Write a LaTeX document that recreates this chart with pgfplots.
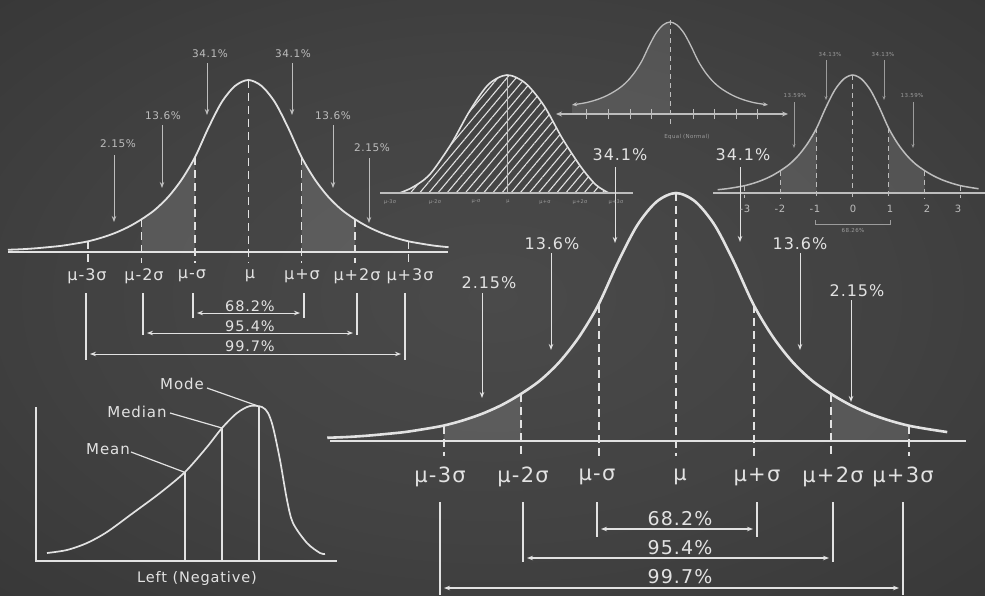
\documentclass[border=0pt]{standalone}
\usepackage{fontspec}
\setmainfont{DejaVu Sans}
\newfontfamily\ck[LetterSpace=6]{DejaVu Sans}
\usepackage{pgfplots}
\pgfplotsset{compat=1.18}
\usepackage{pgfplotstable}
\usetikzlibrary{arrows.meta,patterns.meta}

\definecolor{chalk}{HTML}{E2E2E2}
\definecolor{chalkdim}{HTML}{BDBDBD}
\definecolor{chalkfaint}{HTML}{9C9C9C}
\definecolor{bgA}{HTML}{4A4A4A}
\definecolor{bgB}{HTML}{424242}
\definecolor{bgC}{HTML}{323232}
\definecolor{bgD}{HTML}{1A1A1A}
\pgfdeclareradialshading{vign}{\pgfpoint{0bp}{0bp}}{color(0bp)=(bgA); color(20bp)=(bgB); color(45bp)=(bgC); color(72bp)=(bgD)}

\newcommand{\fs}[1]{\fontsize{#1}{#1}\selectfont\ck}

% generic bell profile: t in sigma units, h relative height
\pgfplotstableread{
t h
-4.5 0.013
-4.25 0.016
-4.0 0.021
-3.75 0.028
-3.5 0.036
-3.25 0.048
-3.0 0.062
-2.75 0.083
-2.5 0.110
-2.25 0.145
-2.0 0.190
-1.75 0.245
-1.5 0.320
-1.25 0.420
-1.0 0.550
-0.75 0.720
-0.5 0.870
-0.25 0.965
0 1.000
0.25 0.965
0.5 0.870
0.75 0.720
1.0 0.550
1.25 0.420
1.5 0.320
1.75 0.245
2.0 0.190
2.25 0.145
2.5 0.110
2.75 0.083
3.0 0.062
3.25 0.048
3.5 0.036
3.75 0.028
4.0 0.021
4.25 0.016
4.5 0.013
}\bell

% hatched curve
\pgfplotstableread{
t h
-2.9 0.0
-2.6 0.04
-2.25 0.11
-2.0 0.19
-1.5 0.42
-1.0 0.70
-0.5 0.92
0 1.0
0.5 0.93
1.0 0.74
1.5 0.46
2.0 0.22
2.4 0.07
2.75 0.0
}\hatch

% skewed curve (pixel coordinates)
\pgfplotstableread{
x y
47 553
67 550
87 543
107 532
133 513
160 493
185 472
207 447
222 428
237 413
250 406
262 407
268 413
273 427
280 460
287 500
293 523
307 543
320 553
325 554
}\skew

\pgfplotsset{
  chart/.style={hide axis, clip=false, xmin=-5, xmax=5, ymin=-1, ymax=1.2, anchor=south west},
}
\tikzset{
  dsh/.style={line width=1.5pt, dash pattern=on 8pt off 5pt},
  arr/.style={line width=1pt, -{Stealth[length=6pt,width=4.5pt]}},
  darr/.style={line width=1.1pt, {Stealth[length=6pt,width=4.5pt]}-{Stealth[length=6pt,width=4.5pt]}},
  sarr/.style={line width=0.7pt, -{Stealth[length=4pt,width=3pt]}},
  shd/.style={draw=none, fill=white, fill opacity=0.12},
}

\begin{document}
\begin{tikzpicture}
\shade[shading=vign] (0,0) rectangle (985pt,595pt);

% ---------------- Chart A (upper left) ----------------
\begin{axis}[chart, x=53.4pt, y=172pt, at={(-18.7pt,171pt)}]
\addplot[shd, smooth, restrict x to domain=-2:-1] table[x=t,y=h]{\bell} \closedcycle;
\addplot[shd, smooth, restrict x to domain=1:2] table[x=t,y=h]{\bell} \closedcycle;
\addplot[chalk, line width=1.8pt, smooth, restrict x to domain=-4.5:3.75] table[x=t,y=h]{\bell};
\addplot[chalk, dsh] coordinates {(-3,0.062) (-3,-0.064)};
\addplot[chalk, dsh] coordinates {(-2,0.19) (-2,-0.064)};
\addplot[chalk, dsh] coordinates {(-1,0.55) (-1,-0.064)};
\addplot[chalk, dsh] coordinates {(0,1) (0,-0.064)};
\addplot[chalk, dsh] coordinates {(1,0.55) (1,-0.064)};
\addplot[chalk, dsh] coordinates {(2,0.19) (2,-0.064)};
\addplot[chalk, dsh] coordinates {(3,0.062) (3,-0.064)};
\end{axis}

% ---------------- Chart M (main) ----------------
\begin{axis}[chart, x=77.5pt, y=248pt, at={(288.5pt,-94pt)}]
\addplot[shd, smooth, restrict x to domain=-3:-2] table[x=t,y=h]{\bell} \closedcycle;
\addplot[shd, smooth, restrict x to domain=2:3] table[x=t,y=h]{\bell} \closedcycle;
\addplot[chalk, line width=2.6pt, smooth, restrict x to domain=-4.5:3.6] table[x=t,y=h]{\bell};
\addplot[chalk, dsh, line width=2pt] coordinates {(-3,0.062) (-3,-0.06)};
\addplot[chalk, dsh, line width=2pt] coordinates {(-2,0.19) (-2,-0.06)};
\addplot[chalk, dsh, line width=2pt] coordinates {(-1,0.55) (-1,-0.06)};
\addplot[chalk, dsh, line width=2pt] coordinates {(0,1) (0,-0.06)};
\addplot[chalk, dsh, line width=2pt] coordinates {(1,0.55) (1,-0.06)};
\addplot[chalk, dsh, line width=2pt] coordinates {(2,0.19) (2,-0.06)};
\addplot[chalk, dsh, line width=2pt] coordinates {(3,0.062) (3,-0.06)};
\end{axis}

% ---------------- Chart D (top right) ----------------
\begin{axis}[chart, x=36pt, y=118pt, at={(672.6pt,284pt)}]
\addplot[shd, fill opacity=0.11, smooth, restrict x to domain=-2:-1] table[x=t,y=h]{\bell} \closedcycle;
\addplot[shd, fill opacity=0.11, smooth, restrict x to domain=1:2] table[x=t,y=h]{\bell} \closedcycle;
\addplot[chalkdim, line width=1.5pt, smooth, restrict x to domain=-3.75:3.5] table[x=t,y=h]{\bell};
\addplot[chalkdim, line width=1.1pt, dash pattern=on 5pt off 4pt] coordinates {(-3,0.062) (-3,-0.04)};
\addplot[chalkdim, line width=1.1pt, dash pattern=on 5pt off 4pt] coordinates {(-2,0.19) (-2,-0.04)};
\addplot[chalkdim, line width=1.1pt, dash pattern=on 5pt off 4pt] coordinates {(-1,0.55) (-1,-0.04)};
\addplot[chalkdim, line width=1.1pt, dash pattern=on 5pt off 4pt] coordinates {(0,1) (0,-0.04)};
\addplot[chalkdim, line width=1.1pt, dash pattern=on 5pt off 4pt] coordinates {(1,0.55) (1,-0.04)};
\addplot[chalkdim, line width=1.1pt, dash pattern=on 5pt off 4pt] coordinates {(2,0.19) (2,-0.04)};
\addplot[chalkdim, line width=1.1pt, dash pattern=on 5pt off 4pt] coordinates {(3,0.062) (3,-0.04)};
\end{axis}

% ---------------- Chart B (hatched) ----------------
\begin{axis}[chart, x=37pt, y=118pt, at={(322pt,284pt)}]
\addplot[draw=none, smooth, pattern={Lines[angle=50,distance=7pt,line width=1.1pt]}, pattern color=chalk] table[x=t,y=h]{\hatch} \closedcycle;
\addplot[chalkdim, line width=0.7pt] coordinates {(0,0) (0,1)};
\addplot[chalk, line width=1.6pt, smooth] table[x=t,y=h]{\hatch};
\end{axis}

% ---------------- Chart C (Equal (Normal)) ----------------
\begin{axis}[chart, x=28pt, y=86pt, at={(530pt,401pt)}]
\addplot[shd, fill opacity=0.11, smooth, restrict x to domain=-3.5:0] table[x=t,y=h]{\bell} \closedcycle;
\addplot[shd, fill opacity=0.11] coordinates {(-3.5,0) (0,0) (0,-0.07) (-3.5,-0.07)} -- cycle;
\addplot[chalkdim, line width=1.3pt, smooth, restrict x to domain=-3.5:3.5, {Stealth[length=5pt,width=4pt]}-{Stealth[length=5pt,width=4pt]}] table[x=t,y=h]{\bell};
\addplot[chalkdim, line width=1pt, dash pattern=on 5pt off 4pt] coordinates {(0,1.02) (0,-0.23)};
\end{axis}

% ---------------- Pixel overlay: baselines, arrows, texts, skew chart ----------------
\begin{axis}[hide axis, clip=false, x=1pt, y=1pt, y dir=reverse, xmin=0, xmax=985, ymin=0, ymax=595, at={(0pt,0pt)}, anchor=south west]
% baselines
\addplot[chalk, line width=2.6pt] coordinates {(330,441) (966,441)};
\addplot[chalk, line width=2pt] coordinates {(8,252) (448,252)};
\addplot[chalkdim, line width=1.5pt] coordinates {(380,193) (633,193)};
\addplot[chalkdim, line width=1.5pt] coordinates {(713,193) (985,193)};
\addplot[chalkdim, line width=1.2pt, {Stealth[length=6pt,width=5pt]}-{Stealth[length=6pt,width=5pt]}] coordinates {(556,114) (788,114)};
\pgfplotsinvokeforeach{586,608,630,651,693,714,736,757}{
  \addplot[chalkdim, line width=1pt] coordinates {(#1,109) (#1,119)};
}

% main chart arrows
\addplot[chalk, arr] coordinates {(615,167) (615,243)};
\addplot[chalk, arr] coordinates {(740,167) (740,242)};
\addplot[chalk, arr] coordinates {(551,253) (551,350)};
\addplot[chalk, arr] coordinates {(800,253) (800,350)};
\addplot[chalk, arr] coordinates {(482,293) (482,398)};
\addplot[chalk, arr] coordinates {(851,300) (851,402)};
% main brackets
\addplot[chalk, line width=1.6pt] coordinates {(597,502) (597,537)};
\addplot[chalk, line width=1.6pt] coordinates {(757,502) (757,537)};
\addplot[chalk, line width=1.6pt] coordinates {(523,502) (523,562)};
\addplot[chalk, line width=1.6pt] coordinates {(833,502) (833,562)};
\addplot[chalk, line width=1.6pt] coordinates {(440,502) (440,595)};
\addplot[chalk, line width=1.6pt] coordinates {(903,502) (903,595)};
\addplot[chalk, darr] coordinates {(601,529) (753,529)};
\addplot[chalk, darr] coordinates {(527,558) (829,558)};
\addplot[chalk, darr] coordinates {(444,588) (899,588)};

% chart A arrows
\addplot[chalkdim, arr, line width=0.8pt] coordinates {(207,63) (207,115)};
\addplot[chalkdim, arr, line width=0.8pt] coordinates {(292,63) (292,115)};
\addplot[chalkdim, arr, line width=0.8pt] coordinates {(162,125) (162,188)};
\addplot[chalkdim, arr, line width=0.8pt] coordinates {(333,125) (333,188)};
\addplot[chalkdim, arr, line width=0.8pt] coordinates {(114,155) (114,222)};
\addplot[chalkdim, arr, line width=0.8pt] coordinates {(369,158) (369,223)};
% chart A brackets
\addplot[chalk, line width=1.3pt] coordinates {(193,293) (193,318)};
\addplot[chalk, line width=1.3pt] coordinates {(304,293) (304,318)};
\addplot[chalk, line width=1.3pt] coordinates {(143,293) (143,335)};
\addplot[chalk, line width=1.3pt] coordinates {(357,293) (357,335)};
\addplot[chalk, line width=1.3pt] coordinates {(86,293) (86,360)};
\addplot[chalk, line width=1.3pt] coordinates {(405,293) (405,360)};
\addplot[chalk, darr, line width=0.9pt] coordinates {(197,313) (300,313)};
\addplot[chalk, darr, line width=0.9pt] coordinates {(147,333) (353,333)};
\addplot[chalk, darr, line width=0.9pt] coordinates {(90,354) (401,354)};

% chart D arrows and line
\addplot[chalkfaint, sarr] coordinates {(826,60) (826,100)};
\addplot[chalkfaint, sarr] coordinates {(884,60) (884,100)};
\addplot[chalkfaint, sarr] coordinates {(794,102) (794,148)};
\addplot[chalkfaint, sarr] coordinates {(913,102) (913,148)};
\addplot[chalkfaint, line width=0.7pt] coordinates {(815,220) (815,224) (890,224) (890,220)};

% skew chart
\addplot[chalk, line width=1.6pt] coordinates {(36,407) (36,561) (337,561)};
\addplot[chalk, line width=1.7pt, smooth] table[x=x,y=y]{\skew};
\addplot[chalk, line width=1.3pt] coordinates {(185,472) (185,561)};
\addplot[chalk, line width=1.3pt] coordinates {(222,428) (222,561)};
\addplot[chalk, line width=1.3pt] coordinates {(259,406) (259,561)};
\addplot[chalk, line width=1.2pt] coordinates {(207,388) (258,406)};
\addplot[chalk, line width=1.2pt] coordinates {(170,413) (222,428)};
\addplot[chalk, line width=1.2pt] coordinates {(131,452) (184,472)};

% ---- texts ----
% main
\node[text=chalk] at (axis cs:620,155) {\fs{16}34.1\%};
\node[text=chalk] at (axis cs:743,155) {\fs{16}34.1\%};
\node[text=chalk] at (axis cs:552,244) {\fs{16}13.6\%};
\node[text=chalk] at (axis cs:800,244) {\fs{16}13.6\%};
\node[text=chalk] at (axis cs:489,283) {\fs{16}2.15\%};
\node[text=chalk] at (axis cs:857,291) {\fs{16}2.15\%};
\node[text=chalk] at (axis cs:440,477) {\fs{21}μ-3σ};
\node[text=chalk] at (axis cs:523,477) {\fs{21}μ-2σ};
\node[text=chalk] at (axis cs:597,477) {\fs{21}μ-σ};
\node[text=chalk] at (axis cs:680,477) {\fs{21}μ};
\node[text=chalk] at (axis cs:757,477) {\fs{21}μ+σ};
\node[text=chalk] at (axis cs:833,477) {\fs{21}μ+2σ};
\node[text=chalk] at (axis cs:903,477) {\fs{21}μ+3σ};
\node[text=chalk] at (axis cs:680,519) {\fs{19}68.2\%};
\node[text=chalk] at (axis cs:680,548) {\fs{19}95.4\%};
\node[text=chalk] at (axis cs:680,577) {\fs{19}99.7\%};
% chart A
\node[text=chalkdim] at (axis cs:210,54) {\fs{10.5}34.1\%};
\node[text=chalkdim] at (axis cs:293,54) {\fs{10.5}34.1\%};
\node[text=chalkdim] at (axis cs:163,116) {\fs{10.5}13.6\%};
\node[text=chalkdim] at (axis cs:333,116) {\fs{10.5}13.6\%};
\node[text=chalkdim] at (axis cs:118,144) {\fs{10.5}2.15\%};
\node[text=chalkdim] at (axis cs:372,148) {\fs{10.5}2.15\%};
\node[text=chalk] at (axis cs:87,276) {\fs{16}μ-3σ};
\node[text=chalk] at (axis cs:144,276) {\fs{16}μ-2σ};
\node[text=chalk] at (axis cs:192,276) {\fs{16}μ-σ};
\node[text=chalk] at (axis cs:250,276) {\fs{16}μ};
\node[text=chalk] at (axis cs:302,276) {\fs{16}μ+σ};
\node[text=chalk] at (axis cs:357,276) {\fs{16}μ+2σ};
\node[text=chalk] at (axis cs:410,276) {\fs{16}μ+3σ};
\node[text=chalk] at (axis cs:250,306) {\fs{14.5}68.2\%};
\node[text=chalk] at (axis cs:250,326) {\fs{14.5}95.4\%};
\node[text=chalk] at (axis cs:250,346) {\fs{14.5}99.7\%};
% chart B
\node[text=chalkfaint] at (axis cs:390,202) {\fs{5}μ-3σ};
\node[text=chalkfaint] at (axis cs:435,202) {\fs{5}μ-2σ};
\node[text=chalkfaint] at (axis cs:476,202) {\fs{5}μ-σ};
\node[text=chalkfaint] at (axis cs:508,202) {\fs{5}μ};
\node[text=chalkfaint] at (axis cs:545,202) {\fs{5}μ+σ};
\node[text=chalkfaint] at (axis cs:580,202) {\fs{5}μ+2σ};
\node[text=chalkfaint] at (axis cs:616,202) {\fs{5}μ+3σ};
% chart C
\node[text=chalkfaint] at (axis cs:687,137) {\fs{5.5}Equal (Normal)};
% chart D
\node[text=chalkfaint] at (axis cs:830,54) {\fs{5.5}34.13\%};
\node[text=chalkfaint] at (axis cs:883,54) {\fs{5.5}34.13\%};
\node[text=chalkfaint] at (axis cs:795,95) {\fs{5.5}13.59\%};
\node[text=chalkfaint] at (axis cs:912,95) {\fs{5.5}13.59\%};
\node[text=chalkfaint] at (axis cs:853,230) {\fs{5.5}68.26\%};
\node[text=chalkdim] at (axis cs:745,209) {\fs{10}-3};
\node[text=chalkdim] at (axis cs:780,209) {\fs{10}-2};
\node[text=chalkdim] at (axis cs:815,209) {\fs{10}-1};
\node[text=chalkdim] at (axis cs:853,209) {\fs{10}0};
\node[text=chalkdim] at (axis cs:890,209) {\fs{10}1};
\node[text=chalkdim] at (axis cs:927,209) {\fs{10}2};
\node[text=chalkdim] at (axis cs:958,209) {\fs{10}3};
% chart E
\node[text=chalk] at (axis cs:182,384) {\fs{15}Mode};
\node[text=chalk] at (axis cs:137,412) {\fs{15}Median};
\node[text=chalk] at (axis cs:108,449) {\fs{15}Mean};
\node[text=chalk] at (axis cs:197,578) {\fs{14.5}Left (Negative)};
\end{axis}

\pgfresetboundingbox
\path[use as bounding box] (0,0) rectangle (985pt,595pt);
\end{tikzpicture}
\end{document}
